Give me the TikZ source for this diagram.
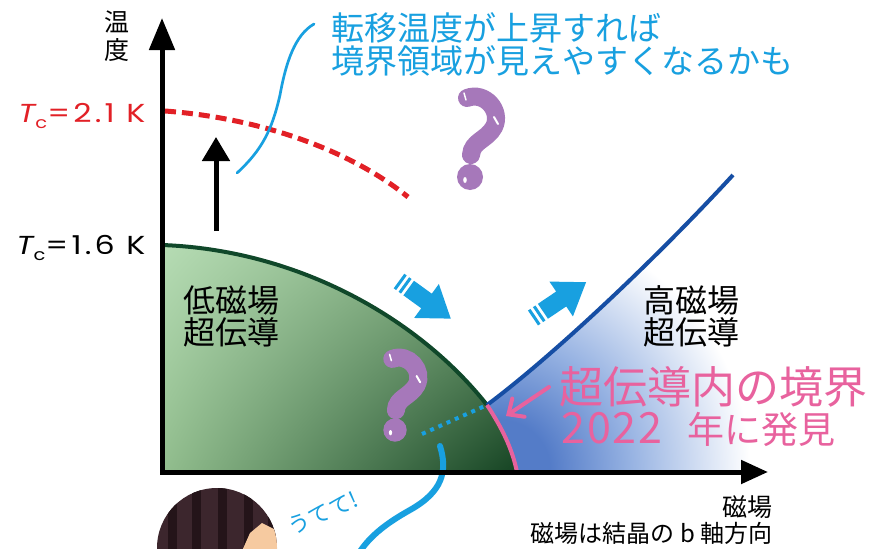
\documentclass[tikz,border=0pt]{standalone}
\usepackage{fontspec}
\setmainfont{Noto Sans CJK JP}
\newfontfamily\popfont{Poppins}[LetterSpace=10]
\usetikzlibrary{arrows.meta,shadings}

\definecolor{cyanline}{RGB}{24,160,224}
\definecolor{tcred}{RGB}{226,32,38}
\definecolor{pinkline}{RGB}{232,98,158}
\definecolor{darkgreen}{RGB}{16,72,42}
\definecolor{hfblue}{RGB}{22,78,164}
\definecolor{hfcore}{RGB}{84,124,200}
\definecolor{hfmid}{RGB}{150,178,226}
\definecolor{qpurple}{RGB}{166,120,186}
\definecolor{hairdark}{RGB}{36,20,25}
\definecolor{hairmid}{RGB}{60,38,45}
\definecolor{skin}{RGB}{246,202,160}
\definecolor{gUL}{RGB}{182,220,180}
\definecolor{gUR}{RGB}{118,164,116}
\definecolor{gLL}{RGB}{146,190,142}
\definecolor{gLR}{RGB}{20,66,34}

% radial fade of the high-field region (25bp = edge of the shaded circle)
\pgfdeclareradialshading{bluefade}{\pgfpoint{0bp}{0bp}}{color(0bp)=(hfcore); color(5bp)=(hfcore); color(13bp)=(hfmid); color(25bp)=(white); color(50bp)=(white)}

\tikzset{
  cjk/.style={font=\fontsize{#1}{#1}\selectfont},
  axisline/.style={line width=5pt, line join=miter},
  qmark/.pic={
    \draw[qpurple, line width=18pt, line cap=round]
      (-3,-79) .. controls (15,-86) and (32,-66) .. (24,-50)
      .. controls (17,-37) and (2,-36) .. (1,-22);
    \fill[qpurple] (0,0) circle (13);
    \draw[white, line width=1.5pt, line cap=round] (-6,-84) -- (-4,-77);
    \draw[white, line width=2pt, line cap=round] (24,-60) -- (28,-53);
    \fill[white] (-5,3) ellipse (1.8 and 3);
  },
  fatarrow/.pic={
    \fill[cyanline] (0,-9) rectangle (3,9);
    \fill[cyanline] (6,-9) rectangle (9,9);
    \fill[cyanline] (12,-9) -- (34,-9) -- (34,-21) -- (64,0) -- (34,21) -- (34,9) -- (12,9) -- cycle;
  }
}

\begin{document}
\begin{tikzpicture}[x=1pt,y=-1pt]
\useasboundingbox (0,0) rectangle (879,549);
\fill[white] (0,0) rectangle (879,549);

% key points of the phase diagram
\coordinate (O) at (162,472);
\coordinate (ytip) at (162,18);
\coordinate (xtip) at (768,472);
\coordinate (gtop) at (162,245);
\coordinate (tri) at (487,405);
\coordinate (pinkfoot) at (517,472);
\coordinate (hftop) at (733,175);

% high-field superconducting region
\begin{scope}
  \clip (tri) .. controls (550,358) and (650,265) .. (hftop) -- (770,175) -- (770,472)
        -- (pinkfoot) .. controls (512,448) and (502,428) .. (tri) -- cycle;
  \shade[shading=bluefade] (500,470) circle (250);
\end{scope}

% low-field superconducting region
\begin{scope}
  \clip (gtop) .. controls (300,250) and (420,320) .. (tri)
        .. controls (502,428) and (512,448) .. (pinkfoot) -- (O) -- cycle;
  \shade[upper left=gUL, upper right=gUR, lower left=gLL, lower right=gLR]
        (162,245) rectangle (520,472);
\end{scope}

% phase boundaries
\draw[darkgreen, line width=4pt] (gtop) .. controls (300,250) and (420,320) .. (tri);
\draw[hfblue, line width=4pt] (tri) .. controls (550,358) and (650,265) .. (hftop);
\draw[pinkline, line width=4pt] (tri) .. controls (502,428) and (512,448) .. (pinkfoot);

% dotted extension and callout line
\coordinate (dotstart) at (422,434);
\draw[cyanline, line width=4pt, dash pattern=on 4pt off 5pt] (dotstart) -- (tri);
\coordinate (tstart) at (440,446);
\coordinate (tend) at (356,558);
\draw[cyanline, line width=6pt, line cap=round] (tstart) .. controls (448,472) and (442,492) .. (410,510)
      .. controls (385,524) and (367,538) .. (tend);

% question marks
\pic at (470,177) {qmark};
\pic[scale=0.9] at (395,430) {qmark};

% axes
\draw[axisline, {Triangle[length=32pt,width=25pt]}-{Triangle[length=27pt,width=23pt]}] (ytip) -- (O) -- (xtip);

% raised Tc curve
\coordinate (tc21) at (165,111);
\coordinate (redend) at (408,197);
\draw[tcred, line width=5pt, dash pattern=on 11pt off 6pt] (tc21) .. controls (260,118) and (350,150) .. (redend);

% upward arrow
\coordinate (upfrom) at (216,231);
\coordinate (upto) at (216,137);
\draw[line width=5pt, -{Triangle[length=24pt,width=27pt]}] (upfrom) -- (upto);

% callout line to the note
\coordinate (cfoot) at (237,173);
\coordinate (ctop) at (314,24);
\draw[cyanline, line width=2.7pt, line cap=round] (cfoot) .. controls (262,150) and (272,130) .. (280,95)
      .. controls (286,62) and (295,35) .. (ctop);

% broad arrows
\pic[rotate=-36] at (399,281) {fatarrow};
\pic[rotate=34] at (533,318) {fatarrow};

% pink arrow to the boundary
\coordinate (pkfrom) at (549,387);
\coordinate (pktip) at (506,416);
\draw[pinkline, line width=4pt, line cap=round, -{Straight Barb[length=12pt,width=22pt,line cap=round]}] (pkfrom) -- (pktip);

% labels
\node[anchor=base, cjk=25] (ylab1) at (117,31) {温};
\node[anchor=base, cjk=25] (ylab2) at (117,59) {度};
\node[anchor=base east, text=tcred, font=\popfont\fontsize{26}{26}\selectfont] (tclabA) at (149,122)
  {\scalebox{1.22}[1]{{\itshape T}\raisebox{-6pt}{\fontsize{16}{16}\selectfont c}=2.1 K}};
\node[anchor=base east, font=\popfont\fontsize{26}{26}\selectfont] (tclabB) at (149,254)
  {\scalebox{1.22}[1]{{\itshape T}\raisebox{-6pt}{\fontsize{16}{16}\selectfont c}=1.6 K}};

\node[anchor=base west, text=cyanline, cjk=33] (note1) at (328,40) {転移温度が上昇すれば};
\node[anchor=base west, text=cyanline, cjk=33] (note2) at (328,73) {境界領域が見えやすくなるかも};

\node[anchor=base west, cjk=32] (lo1) at (180,312) {低磁場};
\node[anchor=base west, cjk=32] (lo2) at (180,344) {超伝導};
\node[anchor=base west, cjk=32] (hi1) at (640,312) {高磁場};
\node[anchor=base west, cjk=32] (hi2) at (640,344) {超伝導};

\node[anchor=base west, text=pinkline, cjk=44] (pk1) at (556,403) {超伝導内の境界};
\node[anchor=base west, text=pinkline, cjk=43] (pk2a) at (558,443) {\addfontfeature{LetterSpace=4}2022};
\node[anchor=base west, text=pinkline, cjk=37] (pk2b) at (684,443) {年に発見};

\node[anchor=base east, cjk=25] (xlab) at (776,516) {磁場};
\node[anchor=base east, cjk=24] (xnote) at (776,542) {磁場は結晶の b 軸方向};

\node[rotate=24, text=cyanline, cjk=22] (ute) at (323,513) {うてて!};

% person at the bottom
\begin{scope}
  \clip (217,548) circle (60);
  \fill[hairmid] (150,480) rectangle (285,620);
  \foreach \sx in {168,192,218,244,268} \fill[hairdark] (\sx,480) rectangle (\sx+9,620);
  \fill[skin] (238,560) -- (250,533) -- (262,523) -- (280,532) -- (280,560) -- cycle;
\end{scope}
\end{tikzpicture}
\end{document}
